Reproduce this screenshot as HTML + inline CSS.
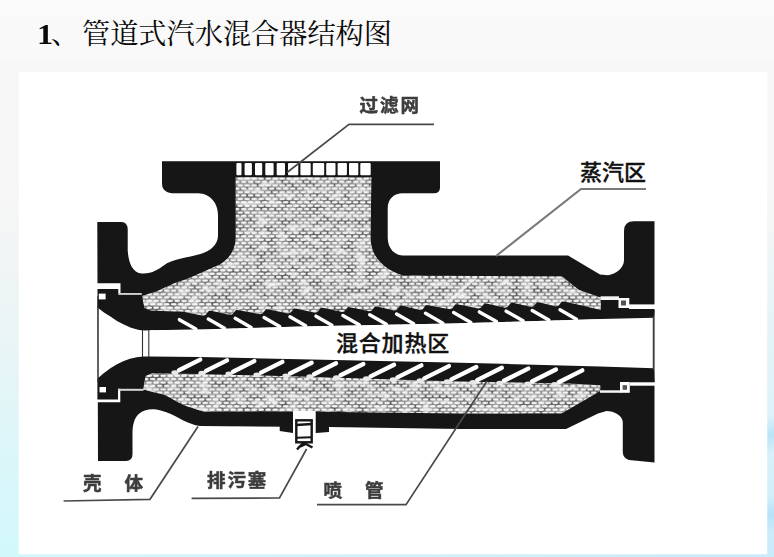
<!DOCTYPE html>
<html><head><meta charset="utf-8"><title>管道式汽水混合器结构图</title>
<style>
html,body{margin:0;padding:0;}
body{width:774px;height:557px;overflow:hidden;position:relative;font-family:"Liberation Serif",serif;
background:linear-gradient(to bottom,#fafafa 0px,#f9f9f9 59px,#f7f7f7 61px,#f6f6f6 200px,#eaf4f5 330px,#dcf6f9 450px,#d2f8fc 557px);}
#rstrip{position:absolute;left:767px;top:230px;width:7px;height:327px;background:linear-gradient(to bottom,rgba(228,243,248,0),#e2f3f8 40%,#d6f0fa 72%,#c8eafa);}
#rstrip i{position:absolute;left:0;width:7px;height:60px;background:linear-gradient(165deg,rgba(180,225,248,0) 20%,rgba(176,222,247,.75) 50%,rgba(180,225,248,0) 80%);}
#bstrip{position:absolute;left:0;top:553px;width:774px;height:4px;background:linear-gradient(to right,#d2f8fc,#d0f2fb 50%,#c8ecfa);}
#paper{position:absolute;left:19px;top:72px;width:748px;height:481.5px;background:#fff;box-shadow:0 0 1.5px rgba(255,255,255,.9);}
#one{position:absolute;left:36.8px;top:17px;font:bold 29px "Liberation Serif",serif;color:#0a0a0a;line-height:34px;transform:scaleX(1.12);transform-origin:0 0;}
svg{position:absolute;left:0;top:0;}
</style></head><body>
<div id="rstrip"><i style="top:175px"></i><i style="top:255px"></i></div><div id="bstrip"></div>
<div id="paper"></div>
<div id="one">1</div>
<svg width="774" height="557" viewBox="0 0 774 557">
<defs>
<pattern id="stip" width="7" height="6.8" patternUnits="userSpaceOnUse">
<rect width="7" height="6.8" fill="#5c5c5c"/>
<ellipse cx="2.2" cy="1.7" rx="2.95" ry="1.3" fill="#f6f6f6"/>
<ellipse cx="5.7" cy="5.1" rx="2.95" ry="1.3" fill="#f6f6f6"/>
<ellipse cx="-1.3" cy="5.1" rx="2.95" ry="1.3" fill="#f6f6f6"/>
<ellipse cx="9.2" cy="1.7" rx="2.95" ry="1.3" fill="#f6f6f6"/>
</pattern>
<filter id="mott" x="0" y="0" width="100%" height="100%" filterUnits="objectBoundingBox">
<feTurbulence type="fractalNoise" baseFrequency="0.09 0.16" numOctaves="2" seed="11" result="n"/>
<feColorMatrix in="n" type="matrix" values="0 0 0 0 0.9  0 0 0 0 0.9  0 0 0 0 0.9  1.7 0 0 0 -0.5" result="a"/>
<feComposite in="a" in2="SourceGraphic" operator="in"/>
</filter>
<filter id="sb" x="-2%" y="-2%" width="104%" height="104%"><feGaussianBlur stdDeviation="0.75 0.6"/></filter>
<filter id="soft" x="-2%" y="-2%" width="104%" height="104%"><feGaussianBlur stdDeviation="0.55"/></filter>
<filter id="tb" x="-5%" y="-20%" width="110%" height="140%"><feGaussianBlur stdDeviation="0.75"/></filter>
</defs>
<g filter="url(#soft)">
<path d="M162,161.3 L440,161.3 L440,187.5 Q440,193.3 434,193.3 L403,193.3 C395,193 388,198 387.7,208 L387.7,238 C388,249 395,255.5 403,255.5 L568,255.5 L600,274.5 L608,275.3 C616,274 624,268 624,260 L624,231 Q624,221.2 634,221.2 L654.5,221.2 L654.5,462.5 L629,460 Q622.8,458 622.8,452 L622.8,422 C622,415 614,411 606.6,411 L598,413.6 L566,429 L460,429 L329,427 L200,426 C188,424.5 178,417 169,413.3 C161,410 156,409 152,409.2 C143,409.5 136,414 134,422 C133,425 132.5,428 132.5,432 L132.5,454 Q132.5,461 126,461 L98,461 L97.3,222 L121.4,222 Q127.7,222 127.7,230 L127.7,250.5 C128.5,262 132,273 142,273.5 C152,274 158,269.5 164.5,265 C171,259.5 188,257.5 200.5,254 C210,251 218,245 218,235.4 L218,215 C218,203 210,193.5 198,193.3 L175,193.3 Q162,193.3 162,183.5 Z" fill="#151515"/>
<path d="M279.7,424 L279.7,431 L293,433 L316,433 L329,432 L329,424 Z" fill="#151515"/>
<g filter="url(#sb)"><path d="M235.7,177.3 L371.4,177.3 L370.5,238 C371,258 385,270 403,275.5 L562,276.5 L579,290 L600.7,297.6 L601,311 L600,322 L150,334 L144.4,307.8 L142,296 L157.4,291 L175.4,282.8 L185.5,279.6 L203,272 L220.6,264 C230,258.5 235.7,248 235.7,238 Z" fill="url(#stip)"/>
<path d="M143,389.5 L143.3,376.5 L152,371 L160,370 L450,377 L572,380 L600,383.5 L600.7,390.8 L562,413.2 L460,413.6 L300,411.5 L204,411.7 L183,405 L165,395 Z" fill="url(#stip)"/></g>
<path d="M235.7,177.3 L371.4,177.3 L370.5,238 C371,258 385,270 403,275.5 L562,276.5 L579,290 L600.7,297.6 L601,311 L600,322 L150,334 L144.4,307.8 L142,296 L157.4,291 L175.4,282.8 L185.5,279.6 L203,272 L220.6,264 C230,258.5 235.7,248 235.7,238 Z" fill="#fff" filter="url(#mott)"/>
<path d="M143,389.5 L143.3,376.5 L152,371 L160,370 L450,377 L572,380 L600,383.5 L600.7,390.8 L562,413.2 L460,413.6 L300,411.5 L204,411.7 L183,405 L165,395 Z" fill="#fff" filter="url(#mott)"/>
<polygon points="142,299 144,308 150,310.5 174,311.6 180,311.5 183,311.8 203,315.7 205.5,315 209,310.7 212,311 230,314.9 232.5,314.3 236,310 239,310.3 260,314.2 262.5,313.5 266,309.2 269,309.5 288,313.4 290.5,312.8 294,308.5 297,308.8 315,312.7 317.5,312.1 321,307.8 324,308.1 342,312 344.5,311.4 348,307.1 351,307.4 369,311.3 371.5,310.7 375,306.4 378,306.7 394,310.6 396.5,310 400,305.7 403,306 420,309.9 422.5,309.4 426,305.1 429,305.4 449.5,309.3 452,308.6 455.5,304.3 458.5,304.6 478.4,308.5 480.9,307.8 484.4,303.5 487.4,303.8 505,307.7 507.5,307.1 511,302.8 514,303.1 531,307 533.5,306.5 537,302.2 540,302.5 556,306.4 558.5,305.8 562,301.5 565,301.8 583,305.7 601.5,310.2 654.5,310.2 654,317.8 600,319 450,323.6 300,326.4 200,329.6 150,330.3 145,330.5 139,330 131,327.8 123.8,324.6 117,320.9 110.8,316.8 104,312.4 97.5,307.6 97.5,296" fill="#151515"/>
<line x1="179.4" y1="319.7" x2="195.8" y2="329.1" stroke="#fff" stroke-width="3.5" stroke-linecap="round"/>
<line x1="208.3" y1="319" x2="224.5" y2="328.2" stroke="#fff" stroke-width="3.5" stroke-linecap="round"/>
<line x1="235.2" y1="318.3" x2="251.1" y2="327.4" stroke="#fff" stroke-width="3.5" stroke-linecap="round"/>
<line x1="264.1" y1="317.5" x2="279.7" y2="326.4" stroke="#fff" stroke-width="3.5" stroke-linecap="round"/>
<line x1="290" y1="316.8" x2="305.6" y2="325.7" stroke="#fff" stroke-width="3.5" stroke-linecap="round"/>
<line x1="316" y1="316.2" x2="331.9" y2="325.3" stroke="#fff" stroke-width="3.5" stroke-linecap="round"/>
<line x1="342.9" y1="315.5" x2="359.2" y2="324.7" stroke="#fff" stroke-width="3.5" stroke-linecap="round"/>
<line x1="369.7" y1="314.8" x2="386.3" y2="324.2" stroke="#fff" stroke-width="3.5" stroke-linecap="round"/>
<line x1="396.6" y1="314.1" x2="413.6" y2="323.7" stroke="#fff" stroke-width="3.5" stroke-linecap="round"/>
<line x1="425.5" y1="313.3" x2="442.8" y2="323.2" stroke="#fff" stroke-width="3.5" stroke-linecap="round"/>
<line x1="453.6" y1="312.6" x2="470.8" y2="322.4" stroke="#fff" stroke-width="3.5" stroke-linecap="round"/>
<line x1="479.4" y1="311.9" x2="496.4" y2="321.6" stroke="#fff" stroke-width="3.5" stroke-linecap="round"/>
<line x1="506.2" y1="311.2" x2="523" y2="320.8" stroke="#fff" stroke-width="3.5" stroke-linecap="round"/>
<line x1="532.2" y1="310.5" x2="548.8" y2="320" stroke="#fff" stroke-width="3.5" stroke-linecap="round"/>
<line x1="560" y1="309.8" x2="576.4" y2="319.2" stroke="#fff" stroke-width="3.5" stroke-linecap="round"/>
<polygon points="150,356.4 200,357 300,359.3 450,362.4 600,366.5 654,368.3 654.5,383 601,385.5 600,385.2 570,383.6 450,381.2 300,376.5 200,374 152,373.2 145.5,376 143.2,389 97.5,400 97.5,378.4 104,373 110.8,368 117,364.2 123.8,361 130,358.8 136.7,357.2 143,356.5" fill="#151515"/>
<line x1="179" y1="370.2" x2="200.2" y2="359.6" stroke="#fff" stroke-width="4.4" stroke-linecap="round"/>
<ellipse cx="175" cy="372.6" rx="3.6" ry="2.4" fill="#e8e8e8"/>
<line x1="206" y1="370.9" x2="227" y2="360.4" stroke="#fff" stroke-width="4.4" stroke-linecap="round"/>
<ellipse cx="202" cy="373.2" rx="3.6" ry="2.4" fill="#e8e8e8"/>
<line x1="233" y1="371.7" x2="254.2" y2="361.1" stroke="#fff" stroke-width="4.4" stroke-linecap="round"/>
<ellipse cx="229" cy="374" rx="3.6" ry="2.4" fill="#e8e8e8"/>
<line x1="261" y1="372.6" x2="282.4" y2="361.9" stroke="#fff" stroke-width="4.4" stroke-linecap="round"/>
<ellipse cx="257" cy="374.9" rx="3.6" ry="2.4" fill="#e8e8e8"/>
<line x1="290" y1="373.5" x2="311.6" y2="362.7" stroke="#fff" stroke-width="4.4" stroke-linecap="round"/>
<ellipse cx="286" cy="375.8" rx="3.6" ry="2.4" fill="#e8e8e8"/>
<line x1="314" y1="374.3" x2="336" y2="363.3" stroke="#fff" stroke-width="4.4" stroke-linecap="round"/>
<ellipse cx="310" cy="376.6" rx="3.6" ry="2.4" fill="#e8e8e8"/>
<line x1="340.6" y1="375.3" x2="363.3" y2="364" stroke="#fff" stroke-width="4.4" stroke-linecap="round"/>
<ellipse cx="336.6" cy="377.6" rx="3.6" ry="2.4" fill="#e8e8e8"/>
<line x1="370.6" y1="376.4" x2="394" y2="364.7" stroke="#fff" stroke-width="4.4" stroke-linecap="round"/>
<ellipse cx="366.6" cy="378.7" rx="3.6" ry="2.4" fill="#e8e8e8"/>
<line x1="397.4" y1="377.4" x2="421.4" y2="365.4" stroke="#fff" stroke-width="4.4" stroke-linecap="round"/>
<ellipse cx="393.4" cy="379.7" rx="3.6" ry="2.4" fill="#e8e8e8"/>
<line x1="424.3" y1="378.4" x2="448.9" y2="366.1" stroke="#fff" stroke-width="4.4" stroke-linecap="round"/>
<ellipse cx="420.3" cy="380.7" rx="3.6" ry="2.4" fill="#e8e8e8"/>
<line x1="451.4" y1="379.4" x2="476.3" y2="367" stroke="#fff" stroke-width="4.4" stroke-linecap="round"/>
<ellipse cx="447.4" cy="381.7" rx="3.6" ry="2.4" fill="#e8e8e8"/>
<line x1="477.2" y1="380.1" x2="501.8" y2="367.8" stroke="#fff" stroke-width="4.4" stroke-linecap="round"/>
<ellipse cx="473.2" cy="382.4" rx="3.6" ry="2.4" fill="#e8e8e8"/>
<line x1="504" y1="380.8" x2="528.2" y2="368.6" stroke="#fff" stroke-width="4.4" stroke-linecap="round"/>
<ellipse cx="500" cy="383.1" rx="3.6" ry="2.4" fill="#e8e8e8"/>
<line x1="532" y1="381.5" x2="555.9" y2="369.5" stroke="#fff" stroke-width="4.4" stroke-linecap="round"/>
<ellipse cx="528" cy="383.8" rx="3.6" ry="2.4" fill="#e8e8e8"/>
<line x1="558.8" y1="382.2" x2="582.3" y2="370.4" stroke="#fff" stroke-width="4.4" stroke-linecap="round"/>
<ellipse cx="554.8" cy="384.5" rx="3.6" ry="2.4" fill="#e8e8e8"/>
<polygon points="98.5,308.2 104,312.4 110.8,316.8 117,320.9 123.8,324.6 131,327.8 139,330 145,330.5 150,330.3 200,329.6 300,326.4 450,323.6 600,319 654,317.8 654,368.3 600,366.5 450,362.4 300,359.3 200,357 150,356.4 143,356.5 136.7,357.2 130,358.8 123.8,361 117,364.2 110.8,368 104,373 98.5,377.8" fill="#fff"/>
<line x1="97.9" y1="306" x2="97.9" y2="382" stroke="#333" stroke-width="1.1"/>
<line x1="142.5" y1="330" x2="142.5" y2="357" stroke="#333" stroke-width="1.1"/>
<line x1="148.8" y1="330" x2="148.8" y2="357" stroke="#333" stroke-width="1.1"/>
<line x1="653.4" y1="316" x2="653.4" y2="370" stroke="#3a3a3a" stroke-width="1.3"/>
<path d="M96.5,283.3 H120.5 V293 H118.3 V289 H96.5 Z" fill="#fff"/><path d="M118.3,293 H141.8 V294.9 H118.3 Z" fill="#d0d0d0"/>
<rect x="98.8" y="293.6" width="6.8" height="5.8" fill="#fff"/>
<path d="M96.5,402.3 H120.3 V388.8 H118 V399.6 H96.5 Z" fill="#fff"/><path d="M118,388.8 H143.5 V390.8 H118 Z" fill="#d8d8d8"/>
<rect x="99.5" y="387" width="6.5" height="5.4" fill="#fff"/>
<path d="M600.5,296.3 H619 V300 H600.5 Z" fill="#f4f4f4"/>
<rect x="618.5" y="298" width="10.8" height="10" fill="#fff"/><rect x="621" y="300.5" width="5" height="5" fill="#555"/>
<rect x="629" y="304.4" width="26" height="4.6" fill="#fff"/>
<path d="M600,390.3 H620.8 V392.8 H600 Z" fill="#f4f4f4"/>
<rect x="620" y="382" width="9.8" height="10.8" fill="#fff"/><rect x="622.6" y="385.2" width="4.4" height="4.6" fill="#555"/>
<rect x="630" y="382.3" width="25" height="3.4" fill="#fff"/>
<rect x="236.4" y="163" width="5.1" height="12.2" rx="1" fill="#fff"/>
<rect x="244.6" y="163" width="7.3" height="12.2" rx="1" fill="#fff"/>
<rect x="255" y="163" width="7.2" height="12.2" rx="1" fill="#fff"/>
<rect x="265.3" y="163" width="8.3" height="12.2" rx="1" fill="#fff"/>
<rect x="276.7" y="163" width="8.3" height="12.2" rx="1" fill="#fff"/>
<rect x="288" y="163" width="10.3" height="12.2" rx="1" fill="#fff"/>
<rect x="300.4" y="163" width="10.3" height="12.2" rx="1" fill="#fff"/>
<rect x="312.8" y="163" width="11.4" height="12.2" rx="1" fill="#fff"/>
<rect x="326.2" y="163" width="9.3" height="12.2" rx="1" fill="#fff"/>
<rect x="337.6" y="163" width="9.3" height="12.2" rx="1" fill="#fff"/>
<rect x="349" y="163" width="9.3" height="12.2" rx="1" fill="#fff"/>
<rect x="360.3" y="163" width="10.4" height="12.2" rx="1" fill="#fff"/>
<rect x="293" y="410.8" width="22.7" height="23" fill="#fff"/>
<rect x="296.3" y="420.3" width="15.4" height="22" fill="#fff" stroke="#151515" stroke-width="2.4"/>
<line x1="296" y1="425" x2="312" y2="424" stroke="#151515" stroke-width="2.4"/>
<line x1="297" y1="437.8" x2="311" y2="437.2" stroke="#151515" stroke-width="2"/>
<path d="M304,442 L297,449.5 M304,443 L312.5,447.5 M298,447.5 L305,444.5" stroke="#151515" stroke-width="2.4" fill="none"/>
<polyline points="434,124.4 349,124.4 287,172.5" fill="none" stroke="#4a4a4a" stroke-width="1.7"/>
<polyline points="646,189 581,189 496,256" fill="none" stroke="#7a7a7a" stroke-width="2.2"/>
<line x1="476" y1="278" x2="450" y2="300" stroke="#fff" stroke-opacity="0.55" stroke-width="2.2"/>
<polyline points="63.6,501 150,499.3 198,426.5" fill="none" stroke="#4a4a4a" stroke-width="1.7"/>
<polyline points="191.6,498.3 279.5,498 306.6,449" fill="none" stroke="#4a4a4a" stroke-width="1.7"/>
<polyline points="317,504.7 406,504.7 487,381" fill="none" stroke="#4a4a4a" stroke-width="1.7"/>
</g>
<text x="82" y="44" font-family="'Liberation Serif','Noto Serif CJK SC',serif" font-size="28.2" fill="#0a0a0a" textLength="310" lengthAdjust="spacing">管道式汽水混合器结构图</text>
<text x="51" y="44" font-family="'Liberation Serif','Noto Serif CJK SC',serif" font-size="28.2" fill="#0a0a0a">、</text>
<g filter="url(#tb)" fill="#3c3c3c" stroke="#3c3c3c" stroke-width="0.5" font-family="'Liberation Sans','Noto Sans CJK SC',sans-serif" font-size="18.5" font-weight="bold">
<text x="359.5" y="112" letter-spacing="2">过滤网</text>
<text x="83" y="490">壳</text>
<text x="124.5" y="490">体</text>
<text x="207" y="487" letter-spacing="1.9">排污塞</text>
<text x="323.5" y="497">喷</text>
<text x="365" y="497">管</text>
</g>
<text x="580" y="179.5" font-family="'Liberation Sans','Noto Sans CJK SC',sans-serif" font-size="22" font-weight="500" fill="#111" stroke="#111" stroke-width="0.35">蒸汽区</text>
<text x="336" y="351" font-family="'Liberation Sans','Noto Sans CJK SC',sans-serif" font-size="22" font-weight="500" letter-spacing="0.8" fill="#111" stroke="#111" stroke-width="0.35">混合加热区</text>
</svg>
</body></html>
